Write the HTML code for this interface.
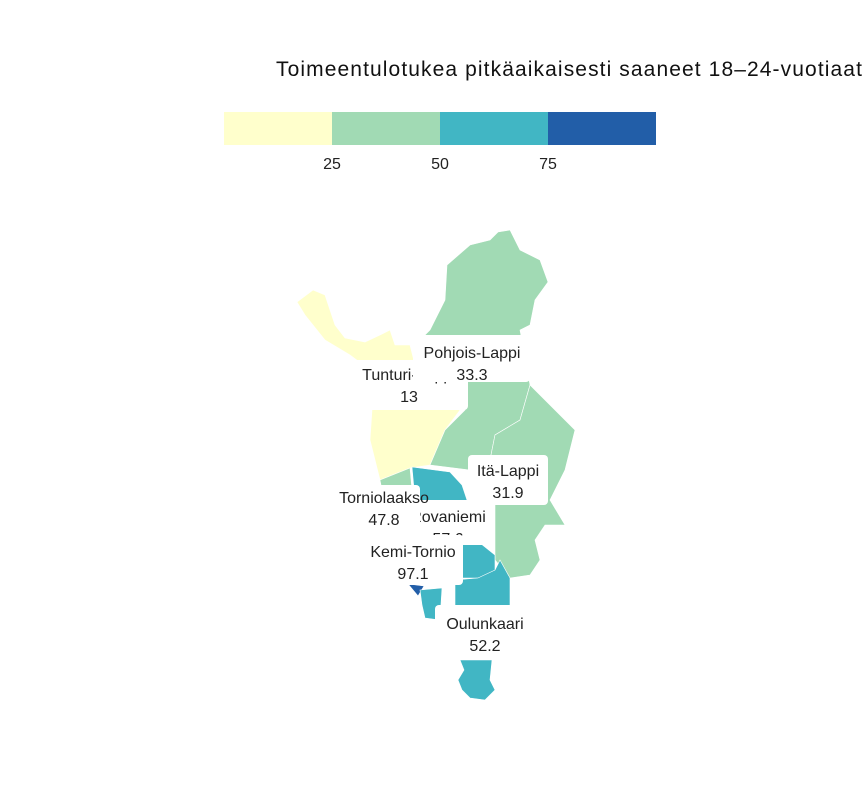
<!DOCTYPE html>
<html><head><meta charset="utf-8"><style>
body{margin:0;background:#fff;width:864px;height:792px;overflow:hidden;font-family:"Liberation Sans",sans-serif}
svg{display:block}
</style></head><body>
<svg width="864" height="792" id="c">
<text x="276" y="76" font-size="21" letter-spacing="1.1" fill="#111">Toimeentulotukea pitkäaikaisesti saaneet 18–24-vuotiaat</text>
<g id="legend"></g>
<g id="map"></g>
<g id="labels"></g>
</svg>
<script>
const regions=["Tunturi-Lappi","Pohjois-Lappi","Itä-Lappi","Torniolaakso","Rovaniemi","Kemi-Tornio","Oulunkaari"];
const values=[13,33.3,31.9,47.8,57.6,97.1,52.2];
const breaks=[25,50,75];
const legendTicks=["25","50","75"];
const palette=["#ffffcc","#a1dab4","#41b6c4","#225ea8"];
const shapes={
"Tunturi-Lappi":["297,302 313,290 325,295 335,325 345,338 365,342 380,335 390,330 395,345 410,345 420,385 460,410 445,430 430,465 410,468 380,480 375,460 370,440 372,410 390,385 350,355 325,340 305,315"],
"Pohjois-Lappi":["430,330 445,300 447,265 470,245 490,240 498,232 510,230 520,250 540,260 548,282 535,300 530,325 520,330 530,385 520,420 495,435 490,460 470,470 430,465 445,430 465,410 465,385 420,385 415,345"],
"Itä-Lappi":["530,385 555,410 575,430 565,470 550,500 565,525 545,525 535,540 540,560 530,575 510,578 495,560 495,500 470,490 470,470 490,460 495,435 520,420"],
"Torniolaakso":["380,480 410,468 412,490 382,490","370,533 402,533 402,540 370,540"],
"Rovaniemi":["412,467 450,472 462,485 467,500 470,535 495,555 495,575 478,578 460,578 450,545 420,545 415,500"],
"Kemi-Tornio":["408,584 424,586 418,596"],
"Oulunkaari":["455,580 478,578 495,570 500,560 510,578 510,607 455,607","420,590 442,588 440,620 425,618 422,605","460,660 492,660 490,680 495,690 485,700 470,698 462,690 458,680 464,670"]
};
const boxes={"Tunturi-Lappi":[350,360,118,50],"Rovaniemi":[400,500,95,45],"Torniolaakso":[342,485,78,50],"Kemi-Tornio":[360,535,103,50],"Pohjois-Lappi":[413,335,117,47],"Itä-Lappi":[468,455,80,50],"Oulunkaari":[435,605,105,50]};
const texts={"Tunturi-Lappi":[409,380],"Rovaniemi":[448,522],"Torniolaakso":[384,503],"Kemi-Tornio":[413,557],"Pohjois-Lappi":[472,358],"Itä-Lappi":[508,476],"Oulunkaari":[485,629]};
const NS="http://www.w3.org/2000/svg";
function col(v){let i=0;while(i<breaks.length&&v>=breaks[i])i++;return palette[i];}
const lg=document.getElementById('legend');
const lx=224,lw=432,ly=112,lh=33,seg=lw/palette.length;
palette.forEach((p,i)=>{const r=document.createElementNS(NS,'rect');r.setAttribute('x',lx+i*seg);r.setAttribute('y',ly);r.setAttribute('width',seg);r.setAttribute('height',lh);r.setAttribute('fill',p);


lg.appendChild(r);});
legendTicks.forEach((t,i)=>{const e=document.createElementNS(NS,'text');e.setAttribute('x',lx+(i+1)*seg);e.setAttribute('y',169);e.setAttribute('text-anchor','middle');e.setAttribute('font-size','16');e.setAttribute('fill','#222');e.textContent=t;


lg.appendChild(e);});
const mp=document.getElementById('map');
regions.forEach((n,i)=>{shapes[n].forEach(pts=>{const p=document.createElementNS(NS,'polygon');p.setAttribute('points',pts);p.setAttribute('fill',col(values[i]));p.setAttribute('stroke','#fff');p.setAttribute('stroke-width','0.6');


mp.appendChild(p);});});
const lb=document.getElementById('labels');
const order=["Tunturi-Lappi","Rovaniemi","Torniolaakso","Kemi-Tornio","Pohjois-Lappi","Itä-Lappi","Oulunkaari"];
order.forEach(n=>{const i=regions.indexOf(n);const b=boxes[n];const g=document.createElementNS(NS,'g');


const r=document.createElementNS(NS,'rect');r.setAttribute('x',b[0]);r.setAttribute('y',b[1]);r.setAttribute('width',b[2]);r.setAttribute('height',b[3]);r.setAttribute('rx',4);r.setAttribute('fill','#fff');g.appendChild(r);
const t=texts[n];
[[n,t[1]],[String(values[i]),t[1]+22]].forEach(([s,y])=>{const e=document.createElementNS(NS,'text');e.setAttribute('x',t[0]);e.setAttribute('y',y);e.setAttribute('text-anchor','middle');e.setAttribute('font-size','16');e.setAttribute('fill','#222');e.textContent=s;g.appendChild(e);});
lb.appendChild(g);});
</script>
</body></html>
